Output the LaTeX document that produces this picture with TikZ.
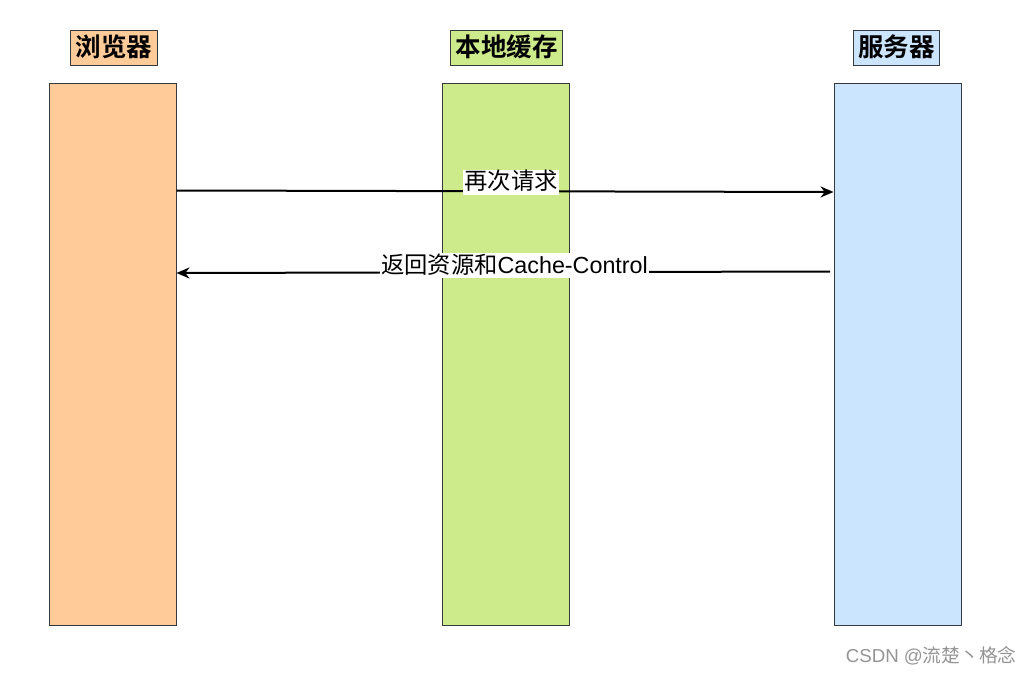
\documentclass[tikz,border=0pt]{standalone}
\usepackage{fontspec}
\setmainfont{Liberation Sans}
\newfontfamily\cjk{Noto Sans CJK SC}[BoldFont={Noto Sans CJK SC Bold}]
\usetikzlibrary{arrows.meta}
\definecolor{cOrange}{HTML}{FFCC99}
\definecolor{cGreen}{HTML}{CDEB8B}
\definecolor{cBlue}{HTML}{CCE5FF}
\definecolor{cStroke}{HTML}{36393D}
\tikzset{
  lane/.style={draw=cStroke, line width=1pt, minimum width=127pt, minimum height=541pt, inner sep=0pt},
  title/.style={draw=cStroke, line width=1pt, font=\cjk\bfseries\fontsize{25.5}{28}\selectfont, minimum height=35pt, inner xsep=5pt, inner ysep=0pt, text height=21pt, text depth=4pt},
  lbl/.style={fill=white, inner sep=1pt, font=\fontsize{23.3}{26}\selectfont, text height=19pt, text depth=4pt},
  arr/.style={line width=2pt, -{Stealth[length=13pt,width=11pt]}},
  wm/.style={text=black!42, font=\fontsize{18.7}{21}\selectfont}
}
\begin{document}
\begin{tikzpicture}[x=1pt,y=-1pt]
\useasboundingbox (0,0) rectangle (1032,676);
\node[lane, fill=cOrange] (b) at (112.5,354.5) {};
\node[lane, fill=cGreen] (c) at (505.5,354.5) {};
\node[lane, fill=cBlue] (s) at (897.5,354.5) {};
\node[title, fill=cOrange] (tb) at (114,48.5) {浏览器};
\node[title, fill=cGreen] (tc) at (506.5,48.5) {本地缓存};
\node[title, fill=cBlue] (ts) at (896.5,48.5) {服务器};
\coordinate (r1s) at (176,190.5);
\coordinate (r1e) at (834,192);
\coordinate (r2s) at (830,271.5);
\coordinate (r2e) at (176,273);
\draw[arr] (b.east |- r1s) -- (s.west |- r1e);
\draw[arr] (r2s) -- (b.east |- r2e);
\node[lbl] (l1) at (511,182.5) {\cjk 再次请求};
\node[lbl] (l2) at (514.5,265.5) {{\cjk 返回资源和}Cache-Control};
\node[wm, anchor=east] (w) at (1020,656) {CSDN @{\cjk 流楚丶格念}};
\end{tikzpicture}
\end{document}
